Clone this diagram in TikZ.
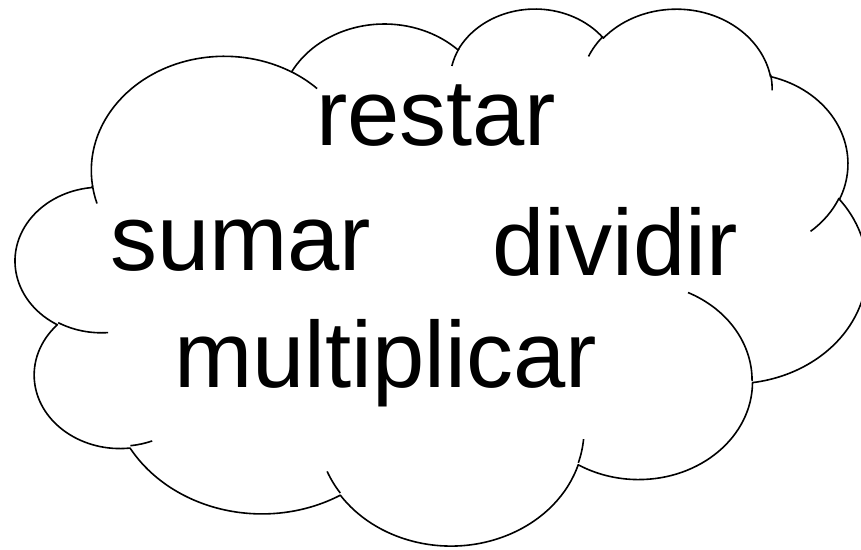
\documentclass[tikz,border=0pt]{standalone}
\usepackage{fontspec}
\setmainfont{Liberation Sans}
% path units (thousandths of the 43200 grid) -> pt
\newcommand\cldsx{19.699}
\newcommand\cldsy{12.426}
\newcommand\defarc[5]{%
  \pgfmathsetmacro\cldcA{#4}%
  \pgfmathsetmacro\cldcB{#4+#5}%
  \pgfmathsetmacro\clddA{atan2(#2*sin(\cldcA),#3*cos(\cldcA))-\cldcA}%
  \pgfmathsetmacro\clddA{mod(mod(\clddA+180,360)+360,360)-180}%
  \pgfmathsetmacro\clddB{atan2(#2*sin(\cldcB),#3*cos(\cldcB))-\cldcB}%
  \pgfmathsetmacro\clddB{mod(mod(\clddB+180,360)+360,360)-180}%
  \pgfmathsetmacro\cldtA{-(\cldcA+\clddA)}%
  \pgfmathsetmacro\cldtB{-(\cldcB+\clddB)}%
  \pgfmathsetmacro\cldrX{#2*\cldsx}%
  \pgfmathsetmacro\cldrY{#3*\cldsy}%
  \expandafter\xdef\csname cldS#1\endcsname{\cldtA}%
  \expandafter\xdef\csname cldE#1\endcsname{\cldtB}%
  \expandafter\xdef\csname cldX#1\endcsname{\cldrX}%
  \expandafter\xdef\csname cldY#1\endcsname{\cldrY}%
}
\tikzset{
  carc/.code={\edef\cldtmp{start angle=\csname cldS#1\endcsname, end angle=\csname cldE#1\endcsname, x radius=\csname cldX#1\endcsname pt, y radius=\csname cldY#1\endcsname pt}\expandafter\pgfkeysalso\expandafter{\cldtmp}},
  cloudline/.style={draw=black, line width=1.6pt, line join=round},
  lbl/.style={font=\fontsize{94}{110}\selectfont, anchor=base west, inner sep=0pt, outer sep=0pt, text=black}
}
\begin{document}
% outline arcs
\defarc{A}{6.753}{9.190}{-190.48748}{123.78053}
\defarc{B}{5.333}{7.267}{-144.10238}{89.94523}
\defarc{C}{4.365}{5.945}{-145.80792}{99.72302}
\defarc{D}{4.857}{6.595}{-130.98607}{117.24173}
\defarc{E}{5.333}{7.273}{-78.70888}{109.02692}
\defarc{F}{6.775}{9.220}{-46.26725}{130.269}
\defarc{G}{5.785}{7.867}{0.62502}{114.03333}
\defarc{H}{6.752}{9.215}{22.4516}{115.17255}
\defarc{I}{7.720}{10.543}{66.24263}{75.71102}
\defarc{J}{4.360}{5.918}{-274.94208}{146.73557}
\defarc{K}{4.345}{5.945}{-246.8285}{152.51885}
% inner tails
\defarc{a}{4.345}{5.945}{86.742}{26.4295}
\defarc{b}{4.360}{5.918}{73.61047}{11.44747}
\defarc{c}{6.752}{9.215}{137.62415}{14.0811}
\defarc{d}{6.752}{9.215}{6.45327}{15.99835}
\defarc{e}{5.785}{7.867}{-70.29235}{70.91737}
\defarc{f}{5.333}{7.273}{30.31803}{27.7515}
\defarc{g}{4.857}{6.595}{-13.74433}{14.8589}
\defarc{h}{4.857}{6.595}{-149.18145}{18.19537}
\defarc{i}{4.365}{5.945}{-163.49427}{17.68635}
\defarc{j}{6.753}{9.190}{-66.70695}{12.31935}
\defarc{k}{6.753}{9.190}{157.65435}{11.85817}
\begin{tikzpicture}[x=1pt,y=1pt]
  \fill[white] (0,0) rectangle (861,-549);
  \useasboundingbox (0,0) rectangle (861,-549);
  \clip (0,0) rectangle (861,-549);
  \coordinate (c0) at ({15.7+\cldsx*3.900},{-(7.3+\cldsy*14.370)});
  \coordinate (ia) at ({15.7+\cldsx*4.693},{-(7.3+\cldsy*26.177)});
  \coordinate (ib) at ({15.7+\cldsx*6.928},{-(7.3+\cldsy*34.899)});
  \coordinate (ic) at ({15.7+\cldsx*16.478},{-(7.3+\cldsy*39.090)});
  \coordinate (id) at ({15.7+\cldsx*28.827},{-(7.3+\cldsy*34.751)});
  \coordinate (ie) at ({15.7+\cldsx*34.129},{-(7.3+\cldsy*22.954)});
  \coordinate (if) at ({15.7+\cldsx*41.798},{-(7.3+\cldsy*15.354)});
  \coordinate (ig) at ({15.7+\cldsx*38.324},{-(7.3+\cldsy*5.426)});
  \coordinate (ih) at ({15.7+\cldsx*29.078},{-(7.3+\cldsy*3.952)});
  \coordinate (ii) at ({15.7+\cldsx*22.141},{-(7.3+\cldsy*4.720)});
  \coordinate (ij) at ({15.7+\cldsx*14.000},{-(7.3+\cldsy*5.192)});
  \coordinate (ik) at ({15.7+\cldsx*4.127},{-(7.3+\cldsy*15.789)});
  \draw[cloudline] (c0) arc[carc=A] arc[carc=B] arc[carc=C] arc[carc=D]
    arc[carc=E] arc[carc=F] arc[carc=G] arc[carc=H] arc[carc=I]
    arc[carc=J] arc[carc=K] -- cycle;
  \draw[cloudline] (ia) arc[carc=a];
  \draw[cloudline] (ib) arc[carc=b];
  \draw[cloudline] (ic) arc[carc=c];
  \draw[cloudline] (id) arc[carc=d];
  \draw[cloudline] (ie) arc[carc=e];
  \draw[cloudline] (if) arc[carc=f];
  \draw[cloudline] (ig) arc[carc=g];
  \draw[cloudline] (ih) arc[carc=h];
  \draw[cloudline] (ii) arc[carc=i];
  \draw[cloudline] (ij) arc[carc=j];
  \draw[cloudline] (ik) arc[carc=k];
  \node[lbl] (restar) at (316,-145) {restar};
  \node[lbl] (sumar) at (110,-270) {sumar};
  \node[lbl] (dividir) at (492,-275) {dividir};
  \node[lbl] (multiplicar) at (174,-387) {multiplicar};
\end{tikzpicture}
\end{document}
